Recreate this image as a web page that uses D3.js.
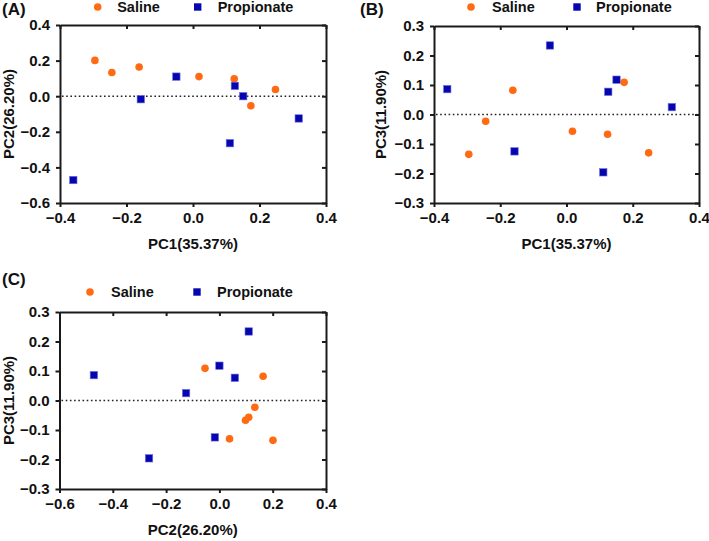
<!DOCTYPE html>
<html>
<head>
<meta charset="utf-8">
<script src="https://cdn.jsdelivr.net/npm/d3@7"></script>
<style>
  body { margin: 0; background: #fff; }
  svg { display: block; }
  text { font-family: "Liberation Sans", Arial, Helvetica, sans-serif; font-weight: bold; fill: #111; }
</style>
</head>
<body>
<svg id="chart" width="709" height="541"></svg>
<script>
// ---- Data: principal component scores ----
const groups = ["Saline", "Propionate"];
const salinePC1 = [-0.295, -0.244, -0.162, 0.018, 0.124, 0.174, 0.248];
const salinePC2 = [0.201, 0.133, 0.164, 0.110, 0.098, -0.054, 0.038];
const salinePC3 = [-0.135, -0.023, 0.082, -0.057, -0.067, 0.109, -0.130];
const propPC1 = [-0.360, -0.157, -0.050, 0.126, 0.151, 0.111, 0.318];
const propPC2 = [-0.471, -0.017, 0.110, 0.058, 0.000, -0.264, -0.125];
const propPC3 = [0.086, -0.125, 0.234, 0.077, 0.118, -0.196, 0.025];
const axisTitles = { PC1: "PC1(35.37%)", PC2: "PC2(26.20%)", PC3: "PC3(11.90%)" };
const panelLabels = ["(A)", "(B)", "(C)"];
const ticksPC1 = [-0.4, -0.2, 0.0, 0.2, 0.4];
const ticksPC2 = [-0.6, -0.4, -0.2, 0.0, 0.2, 0.4];
const ticksPC3 = [-0.3, -0.2, -0.1, 0.0, 0.1, 0.2, 0.3];

const scores = {
  Saline: { PC1: salinePC1, PC2: salinePC2, PC3: salinePC3 },
  Propionate: { PC1: propPC1, PC2: propPC2, PC3: propPC3 }
};
const ticks = { PC1: ticksPC1, PC2: ticksPC2, PC3: ticksPC3 };

const colors = { Saline: "#ff6a12", Propionate: "#0606b0" };

const svg = d3.select("#chart");

const panels = [
  { label: panelLabels[0], xk: "PC1", yk: "PC2", x0: 60, x1: 326, y0: 25, y1: 203,
    labelX: 2, labelY: 15, legY: 7, legItems: [97.7, 197.7], legTextDx: [19.5, 20], yTitleX: 14 },
  { label: panelLabels[1], xk: "PC1", yk: "PC3", x0: 434, x1: 699, y0: 26, y1: 203,
    labelX: 360, labelY: 15, legY: 7, legItems: [471, 577], legTextDx: [21, 19], yTitleX: 386 },
  { label: panelLabels[2], xk: "PC2", yk: "PC3", x0: 59.5, x1: 326, y0: 312, y1: 489,
    labelX: 2, labelY: 285, legY: 292, legItems: [90, 197], legTextDx: [21, 20], yTitleX: 14 }
];

const fmt = d3.format(".1f");
const axisColor = "#1a1a1a";
const tickFont = 15;

panels.forEach(p => {
  const xt = ticks[p.xk], yt = ticks[p.yk];
  const x = d3.scaleLinear().domain([xt[0], xt[xt.length - 1]]).range([p.x0, p.x1]);
  const y = d3.scaleLinear().domain([yt[0], yt[yt.length - 1]]).range([p.y1, p.y0]);
  const g = svg.append("g");

  // mirrored inward ticks on top and right
  const topAx = d3.axisTop(x).tickValues(xt).tickSizeInner(-4).tickSizeOuter(0).tickFormat("");
  g.append("g").attr("transform", `translate(0,${p.y0})`).call(topAx)
    .call(s => s.selectAll("line,path").attr("stroke", axisColor).attr("stroke-width", 2));
  const rightAx = d3.axisRight(y).tickValues(yt).tickSizeInner(-4).tickSizeOuter(0).tickFormat("");
  g.append("g").attr("transform", `translate(${p.x1},0)`).call(rightAx)
    .call(s => s.selectAll("line,path").attr("stroke", axisColor).attr("stroke-width", 2));

  // bottom and left axes
  const botAx = d3.axisBottom(x).tickValues(xt).tickSizeInner(4).tickSizeOuter(0).tickPadding(5).tickFormat(fmt);
  g.append("g").attr("transform", `translate(0,${p.y1})`).call(botAx)
    .call(s => s.selectAll("line,path").attr("stroke", axisColor).attr("stroke-width", 2))
    .call(s => s.selectAll("text").attr("font-size", tickFont).attr("font-family", null).style("fill", "#111"));
  const leftAx = d3.axisLeft(y).tickValues(yt).tickSizeInner(4).tickSizeOuter(0).tickPadding(6).tickFormat(fmt);
  g.append("g").attr("transform", `translate(${p.x0},0)`).call(leftAx)
    .call(s => s.selectAll("line,path").attr("stroke", axisColor).attr("stroke-width", 2))
    .call(s => s.selectAll("text").attr("font-size", tickFont).attr("font-family", null).style("fill", "#111"));

  // dotted zero line
  g.append("line")
    .attr("x1", p.x0 + 2).attr("x2", p.x1 - 2)
    .attr("y1", y(0)).attr("y2", y(0))
    .attr("stroke", "#222").attr("stroke-width", 1.6)
    .attr("stroke-dasharray", "1.6,2.6");

  // axis titles
  g.append("text").attr("x", (p.x0 + p.x1) / 2).attr("y", p.y1 + 46)
    .attr("text-anchor", "middle").attr("font-size", tickFont).text(axisTitles[p.xk]);
  g.append("text").attr("transform", `translate(${p.yTitleX},${(p.y0 + p.y1) / 2}) rotate(-90)`)
    .attr("text-anchor", "middle").attr("font-size", tickFont).text(axisTitles[p.yk]);

  // panel label
  g.append("text").attr("x", p.labelX).attr("y", p.labelY).attr("font-size", 17).text(p.label);

  // points
  groups.forEach(grp => {
    const xs = scores[grp][p.xk], ys = scores[grp][p.yk];
    const pts = xs.map((v, i) => [v, ys[i]]);
    if (grp === "Saline") {
      g.append("g").selectAll("circle").data(pts).join("circle")
        .attr("cx", d => x(d[0])).attr("cy", d => y(d[1])).attr("r", 3.8)
        .attr("fill", colors[grp]);
    } else {
      g.append("g").selectAll("rect").data(pts).join("rect")
        .attr("x", d => x(d[0]) - 3.7).attr("y", d => y(d[1]) - 3.7)
        .attr("width", 7.4).attr("height", 7.4)
        .attr("fill", colors[grp]).attr("stroke", "#6f6fe0").attr("stroke-width", 0.6);
    }
  });

  // legend
  groups.forEach((grp, i) => {
    const cx = p.legItems[i];
    if (grp === "Saline") {
      g.append("circle").attr("cx", cx).attr("cy", p.legY).attr("r", 3.8).attr("fill", colors[grp]);
    } else {
      g.append("rect").attr("x", cx - 3.7).attr("y", p.legY - 3.7).attr("width", 7.4).attr("height", 7.4)
        .attr("fill", colors[grp]);
    }
    g.append("text").attr("x", cx + p.legTextDx[i]).attr("y", p.legY + 5)
      .attr("font-size", 14.5).text(grp);
  });
});
</script>
</body>
</html>
